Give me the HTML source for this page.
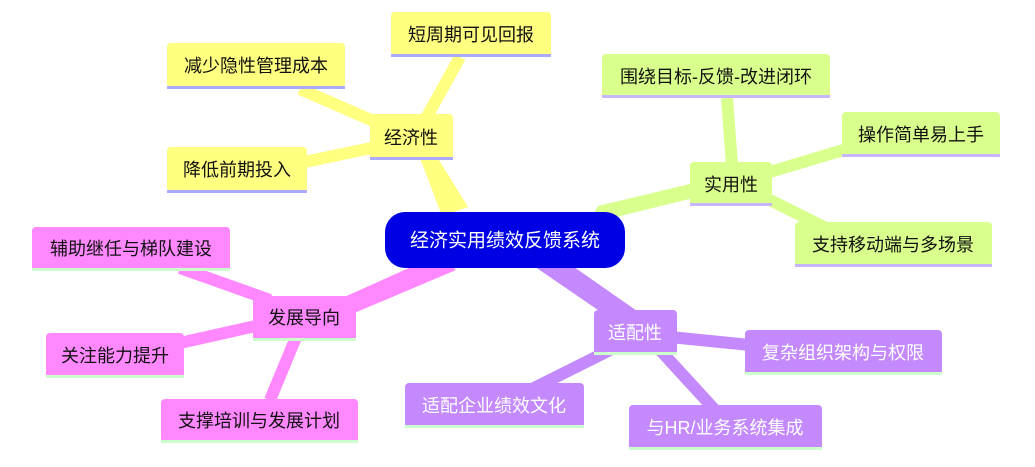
<!DOCTYPE html>
<html><head><meta charset="utf-8"><style>
html,body{margin:0;padding:0;background:#fff;}
svg text{font-family:"Liberation Sans","Noto Sans CJK SC",sans-serif;font-size:18px;text-anchor:middle;dominant-baseline:central;}
</style></head><body>
<svg width="1035" height="462" viewBox="0 0 1035 462" xmlns="http://www.w3.org/2000/svg">
<g stroke-linecap="butt" fill="none">
<polygon points="442,216 468,207 434,152 420,158" fill="#ffff80"/>
<polygon points="588,224 598,206 715,178 718,192" fill="#d9ff8c"/>
<polygon points="528,262 554,253 647,318 630,332" fill="#c389fd"/>
<polygon points="438,255 456,270 352,314 342,298" fill="#ff88ff"/>
<line x1="410" y1="137" x2="300" y2="89" stroke="#ffff80" stroke-width="12"/>
<line x1="400" y1="142" x2="300" y2="163" stroke="#ffff80" stroke-width="12"/>
<line x1="425" y1="120" x2="460" y2="57" stroke="#ffff80" stroke-width="12"/>
<line x1="732" y1="165" x2="727" y2="98" stroke="#d9ff8c" stroke-width="12"/>
<line x1="760" y1="175" x2="850" y2="148" stroke="#d9ff8c" stroke-width="12"/>
<line x1="760" y1="195" x2="830" y2="230" stroke="#d9ff8c" stroke-width="12"/>
<line x1="670" y1="337" x2="750" y2="345" stroke="#c389fd" stroke-width="12"/>
<line x1="610" y1="350" x2="530" y2="390" stroke="#c389fd" stroke-width="12"/>
<line x1="660" y1="350" x2="715" y2="410" stroke="#c389fd" stroke-width="12"/>
<line x1="270" y1="300" x2="180" y2="268" stroke="#ff88ff" stroke-width="12"/>
<line x1="260" y1="325" x2="180" y2="343" stroke="#ff88ff" stroke-width="12"/>
<line x1="297" y1="335" x2="270" y2="400" stroke="#ff88ff" stroke-width="12"/>
</g>
<rect x="385" y="212" width="240" height="56" rx="20" fill="#0000e4"/>
<text x="505" y="241" fill="#fff" style="font-size:19px">经济实用绩效反馈系统</text>

<g fill="#ffff80">
<rect x="370" y="114" width="83" height="46" rx="4"/>
<rect x="391" y="12" width="160" height="45" rx="4"/>
<rect x="167" y="43" width="178" height="46" rx="4"/>
<rect x="167" y="147" width="140" height="46" rx="4"/>
</g>
<g fill="#aaaaff">
<rect x="370" y="157" width="83" height="3"/>
<rect x="391" y="54" width="160" height="3"/>
<rect x="167" y="86" width="178" height="3"/>
<rect x="167" y="190" width="140" height="3"/>
</g>
<g fill="#111">
<text x="411" y="138">经济性</text>
<text x="471" y="35">短周期可见回报</text>
<text x="256" y="66">减少隐性管理成本</text>
<text x="237" y="170">降低前期投入</text>
</g>

<g fill="#d9ff8c">
<rect x="690" y="162" width="82" height="44" rx="4"/>
<rect x="602" y="54" width="228" height="44" rx="4"/>
<rect x="842" y="112" width="158" height="45" rx="4"/>
<rect x="795" y="222" width="197" height="45" rx="4"/>
</g>
<g fill="#c8b4ff">
<rect x="690" y="203" width="82" height="3"/>
<rect x="602" y="95" width="228" height="3"/>
<rect x="842" y="154" width="158" height="3"/>
<rect x="795" y="264" width="197" height="3"/>
</g>
<g fill="#111">
<text x="731" y="185">实用性</text>
<text x="716" y="77">围绕目标-反馈-改进闭环</text>
<text x="921" y="135">操作简单易上手</text>
<text x="893" y="245">支持移动端与多场景</text>
</g>

<g fill="#c389fd">
<rect x="594" y="310" width="83" height="45" rx="4"/>
<rect x="745" y="330" width="197" height="45" rx="4"/>
<rect x="405" y="383" width="179" height="45" rx="4"/>
<rect x="629" y="405" width="193" height="45" rx="4"/>
</g>
<g fill="#ccffcc">
<rect x="594" y="352" width="83" height="3"/>
<rect x="745" y="372" width="197" height="3"/>
<rect x="405" y="425" width="179" height="3"/>
<rect x="629" y="447" width="193" height="3"/>
</g>
<g fill="#fff">
<text x="635" y="333">适配性</text>
<text x="843" y="353">复杂组织架构与权限</text>
<text x="494" y="406">适配企业绩效文化</text>
<text x="725" y="428">与HR/业务系统集成</text>
</g>

<g fill="#ff88ff">
<rect x="253" y="296" width="103" height="45" rx="4"/>
<rect x="32" y="227" width="198" height="44" rx="4"/>
<rect x="46" y="333" width="138" height="45" rx="4"/>
<rect x="161" y="399" width="197" height="44" rx="4"/>
</g>
<g fill="#ccffcc">
<rect x="253" y="338" width="103" height="3"/>
<rect x="32" y="268" width="198" height="3"/>
<rect x="46" y="375" width="138" height="3"/>
<rect x="161" y="440" width="197" height="3"/>
</g>
<g fill="#111">
<text x="304" y="318">发展导向</text>
<text x="131" y="249">辅助继任与梯队建设</text>
<text x="115" y="356">关注能力提升</text>
<text x="259" y="421">支撑培训与发展计划</text>
</g>
</svg>
</body></html>
